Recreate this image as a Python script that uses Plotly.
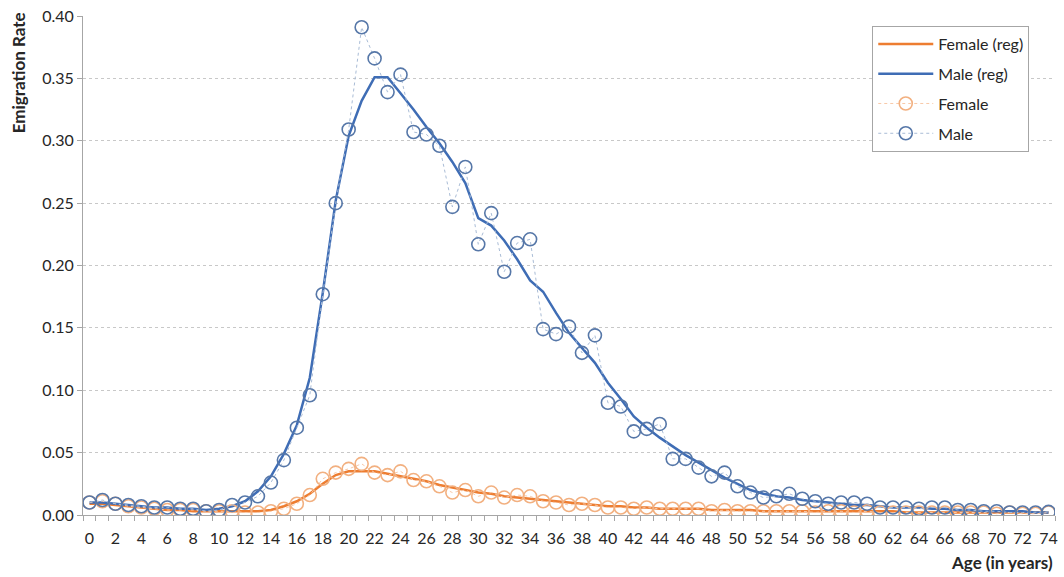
import plotly.graph_objects as go

ages = list(range(0, 75))

male = [0.010, 0.012, 0.009, 0.008, 0.007, 0.006, 0.006, 0.005, 0.005, 0.003,
        0.004, 0.008, 0.010, 0.015, 0.026, 0.044, 0.070, 0.096, 0.177, 0.250,
        0.309, 0.391, 0.366, 0.339, 0.353, 0.307, 0.305, 0.296, 0.247, 0.279,
        0.217, 0.242, 0.195, 0.218, 0.221, 0.149, 0.145, 0.151, 0.130, 0.144,
        0.090, 0.087, 0.067, 0.069, 0.073, 0.045, 0.045, 0.038, 0.031, 0.034,
        0.023, 0.018, 0.014, 0.015, 0.017, 0.013, 0.011, 0.009, 0.010, 0.010,
        0.009, 0.006, 0.006, 0.006, 0.005, 0.006, 0.006, 0.004, 0.004, 0.003,
        0.003, 0.002, 0.002, 0.002, 0.0025]

male_reg = [0.010, 0.010, 0.009, 0.008, 0.007, 0.006, 0.006, 0.005, 0.005, 0.004,
            0.005, 0.007, 0.011, 0.019, 0.031, 0.049, 0.072, 0.110, 0.178, 0.252,
            0.304, 0.332, 0.351, 0.351, 0.338, 0.325, 0.311, 0.298, 0.283, 0.266,
            0.238, 0.232, 0.220, 0.205, 0.188, 0.179, 0.162, 0.146, 0.134, 0.122,
            0.106, 0.093, 0.079, 0.070, 0.062, 0.055, 0.048, 0.042, 0.036, 0.030,
            0.025, 0.020, 0.017, 0.015, 0.014, 0.012, 0.011, 0.010, 0.009, 0.008,
            0.008, 0.007, 0.006, 0.006, 0.006, 0.005, 0.005, 0.004, 0.004, 0.003,
            0.003, 0.003, 0.003, 0.002, 0.002]

female = [0.010, 0.011, 0.009, 0.007, 0.006, 0.005, 0.004, 0.004, 0.004, 0.003,
          0.003, 0.003, 0.002, 0.002, 0.003, 0.005, 0.009, 0.016, 0.029, 0.034,
          0.037, 0.041, 0.034, 0.032, 0.035, 0.028, 0.027, 0.023, 0.018, 0.020,
          0.015, 0.018, 0.014, 0.016, 0.015, 0.011, 0.010, 0.008, 0.009, 0.008,
          0.006, 0.006, 0.005, 0.006, 0.005, 0.005, 0.005, 0.005, 0.003, 0.004,
          0.003, 0.003, 0.003, 0.003, 0.003, 0.003, 0.002, 0.003, 0.003, 0.002,
          0.003, 0.002, 0.002, 0.002, 0.002, 0.002, 0.002, 0.002, 0.002, 0.002,
          0.001, 0.002, 0.001, 0.001, 0.002]

female_reg = [0.009, 0.009, 0.008, 0.007, 0.006, 0.005, 0.004, 0.004, 0.003, 0.003,
              0.003, 0.003, 0.003, 0.003, 0.004, 0.007, 0.011, 0.017, 0.025, 0.032,
              0.035, 0.035, 0.035, 0.033, 0.031, 0.029, 0.027, 0.024, 0.022, 0.020,
              0.018, 0.017, 0.015, 0.014, 0.013, 0.012, 0.011, 0.010, 0.009, 0.008,
              0.007, 0.007, 0.006, 0.006, 0.005, 0.005, 0.005, 0.005, 0.004, 0.004,
              0.004, 0.004, 0.003, 0.003, 0.003, 0.003, 0.003, 0.003, 0.003, 0.003,
              0.003, 0.003, 0.003, 0.002, 0.002, 0.002, 0.002, 0.002, 0.002, 0.002,
              0.002, 0.002, 0.002, 0.002, 0.002]

x_ticks = list(range(0, 75, 2))
y_ticks = [0.0, 0.05, 0.10, 0.15, 0.20, 0.25, 0.30, 0.35, 0.40]

ORANGE = "#ED7D31"
BLUE = "#3F6DB5"
FONT = "Lato"

fig = go.Figure()
fig.add_trace(go.Scatter(x=ages, y=female_reg, mode="lines", name="Female (reg)",
                         line=dict(color=ORANGE, width=2.5), legendgroup="a"))
fig.add_trace(go.Scatter(x=ages, y=male_reg, mode="lines", name="Male (reg)",
                         line=dict(color=BLUE, width=2.5), legendgroup="b"))
fig.add_trace(go.Scatter(x=ages, y=female, mode="lines+markers", name="Female",
                         line=dict(color="#F8C9A8", width=1, dash="dot"),
                         marker=dict(symbol="circle-open", size=13, color="#F2B080",
                                     line=dict(width=1.6, color="#F2B080")),
                         legendgroup="c"))
fig.add_trace(go.Scatter(x=ages, y=male, mode="lines+markers", name="Male",
                         line=dict(color="#A9BCD6", width=1, dash="dot"),
                         marker=dict(symbol="circle-open", size=13, color="#5677A8",
                                     line=dict(width=1.6, color="#5677A8")),
                         legendgroup="d"))

fig.update_layout(
    width=1064, height=577,
    margin=dict(l=83, r=6, t=15, b=62),
    paper_bgcolor="white", plot_bgcolor="white",
    font=dict(family=FONT, size=16, color="#262626"),
    showlegend=True,
    legend=dict(x=0.812, y=0.98, xanchor="left", yanchor="top",
                bordercolor="#A6A6A6", borderwidth=1, bgcolor="white",
                font=dict(size=16), tracegroupgap=6, itemwidth=55),
    xaxis=dict(range=[-0.5, 74.5], tickmode="array", tickvals=x_ticks,
               ticktext=[str(v) for v in x_ticks], ticks="", showgrid=False,
               showline=True, linecolor="#A6A6A6", linewidth=1, zeroline=False,
               tickfont=dict(size=16), ticklabelstandoff=9,
               minor=dict(tickmode="array", tickvals=[v - 0.5 for v in range(0, 76)],
                          ticks="outside", ticklen=5, tickcolor="#A6A6A6", showgrid=False)),
    yaxis=dict(range=[0, 0.40], tickmode="array", tickvals=y_ticks,
               ticktext=["%.2f" % v for v in y_ticks],
               ticks="outside", ticklen=5, tickcolor="#A6A6A6",
               showgrid=True, gridcolor="#C8C8C8", griddash="dot", gridwidth=1,
               showline=True, linecolor="#A6A6A6", linewidth=1, zeroline=False,
               tickfont=dict(size=16)),
    annotations=[
        dict(text="<b>Emigration Rate</b>", textangle=-90, xref="paper", yref="paper",
             x=-0.066, y=1.012, xanchor="center", yanchor="top", showarrow=False,
             font=dict(size=17, color="#262626")),
        dict(text="<b>Age (in years)</b>", xref="paper", yref="paper",
             x=1.0, y=-0.096, xanchor="right", yanchor="middle", showarrow=False,
             font=dict(size=17, color="#262626")),
    ],
)

fig.write_html("out.html")
